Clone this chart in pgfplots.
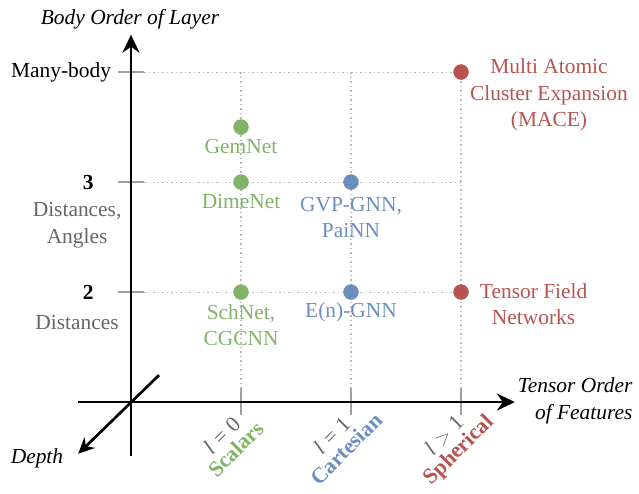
\documentclass[border=0pt]{standalone}
\usepackage{fontspec}
\setmainfont{Liberation Serif}
\usepackage{pgfplots}
\pgfplotsset{compat=1.18}
\usetikzlibrary{arrows.meta}
\definecolor{cgreen}{HTML}{82B366}
\definecolor{cblue}{HTML}{6C8EBF}
\definecolor{cred}{HTML}{B85450}
\definecolor{cgray}{HTML}{666666}
\definecolor{cgrid}{HTML}{BBBBBB}
\definecolor{ctick}{HTML}{A0A0A0}
\newcommand{\fs}{\fontsize{21.5}{26.5}\selectfont}
\newcommand{\fst}{\fontsize{22}{20}\selectfont}
\begin{document}
\begin{tikzpicture}
\begin{axis}[
  x=110bp, y=110bp,
  xmin=-0.48, xmax=3.49, ymin=-0.49, ymax=3.34,
  axis lines=middle,
  axis line style={line width=2.7bp, -{Stealth[length=18bp,width=17bp]}},
  xtick={1,2,3}, ytick={1,2,3},
  xticklabels={}, yticklabels={},
  major tick length=26bp, tick align=center,
  tick style={ctick, line width=1.5bp},
  clip=false,
]
% bounding box of the picture
\path (axis cs:-1.191,-0.736) rectangle (axis cs:4.618,3.655);
% dotted guide lines
\addplot[cgrid, line width=1.1bp, dash pattern=on 1.5bp off 3bp] coordinates {(0.12,1) (3,1)};
\addplot[cgrid, line width=1.1bp, dash pattern=on 1.5bp off 3bp] coordinates {(0.12,2) (3,2)};
\addplot[cgrid, line width=1.1bp, dash pattern=on 1.5bp off 3bp] coordinates {(0.12,3) (3,3)};
\addplot[cgrid, line width=1.1bp, dash pattern=on 1.5bp off 3bp] coordinates {(1,0.12) (1,3)};
\addplot[cgrid, line width=1.1bp, dash pattern=on 1.5bp off 3bp] coordinates {(2,0.12) (2,3)};
\addplot[cgrid, line width=1.1bp, dash pattern=on 1.5bp off 3bp] coordinates {(3,0.12) (3,3)};
% depth arrow
\draw[line width=2.7bp, -{Stealth[length=16bp,width=15bp]}] (axis cs:0.255,0.245) -- (axis cs:-0.48,-0.47);
% points
\addplot[only marks, mark=*, mark size=7.5bp, color=cgreen] coordinates {(1,1) (1,2) (1,2.5)};
\addplot[only marks, mark=*, mark size=7.5bp, color=cblue] coordinates {(2,1) (2,2)};
\addplot[only marks, mark=*, mark size=7.5bp, color=cred] coordinates {(3,1) (3,3)};
% point labels
\node[text=cgreen, font=\fs, align=center] at (axis cs:1,2.327) {GemNet};
\node[text=cgreen, font=\fs, align=center] at (axis cs:1,1.827) {DimeNet};
\node[text=cblue, font=\fs, align=center] at (axis cs:2,1.68) {GVP-GNN,\\PaiNN};
\node[text=cgreen, font=\fs, align=center] at (axis cs:1,0.70) {SchNet,\\CGCNN};
\node[text=cblue, font=\fs, align=center] at (axis cs:2,0.818) {E(n)-GNN};
\node[text=cred, font=\fs, align=center] at (axis cs:3.66,0.89) {Tensor Field\\Networks};
\node[text=cred, font=\fs, align=center] at (axis cs:3.8,2.79) {Multi Atomic\\Cluster Expansion\\(MACE)};
% y labels
\node[font=\fs, anchor=east] at (axis cs:-0.15,3) {Many-body};
\node[font=\fs, anchor=east] at (axis cs:-0.309,2) {\textbf{3}};
\node[font=\fs, anchor=east] at (axis cs:-0.309,1) {\textbf{2}};
\node[font=\fs, text=cgray, align=center] at (axis cs:-0.49,1.609) {Distances,\\Angles};
\node[font=\fs, text=cgray, align=center] at (axis cs:-0.49,0.727) {Distances};
% x tick labels
\node[font=\fst, rotate=45, anchor=north, align=center] at ([xshift=-27bp,yshift=-25bp]axis cs:1,0) {\textcolor{cgray}{\textit{l}\hspace{0.3em}=\hspace{0.3em}0}\\\textcolor{cgreen}{\textbf{Scalars}}};
\node[font=\fst, rotate=45, anchor=north, align=center] at ([xshift=-27bp,yshift=-25bp]axis cs:2,0) {\textcolor{cgray}{\textit{l}\hspace{0.3em}=\hspace{0.3em}1}\\\textcolor{cblue}{\textbf{Cartesian}}};
\node[font=\fst, rotate=45, anchor=north, align=center] at ([xshift=-25bp,yshift=-25bp]axis cs:3,0) {\textcolor{cgray}{\textit{l}\hspace{0.3em}$>$\hspace{0.3em}1}\\\textcolor{cred}{\textbf{Spherical}}};
% axis titles
\node[font=\fs\itshape, align=right, anchor=east] at (axis cs:4.59,0.01) {Tensor Order\\of Features};
\node[font=\fs\itshape] at (axis cs:-0.009,3.482) {Body Order of Layer};
\node[font=\fs\itshape] at (axis cs:-0.855,-0.51) {Depth};
\end{axis}
\end{tikzpicture}
\end{document}
